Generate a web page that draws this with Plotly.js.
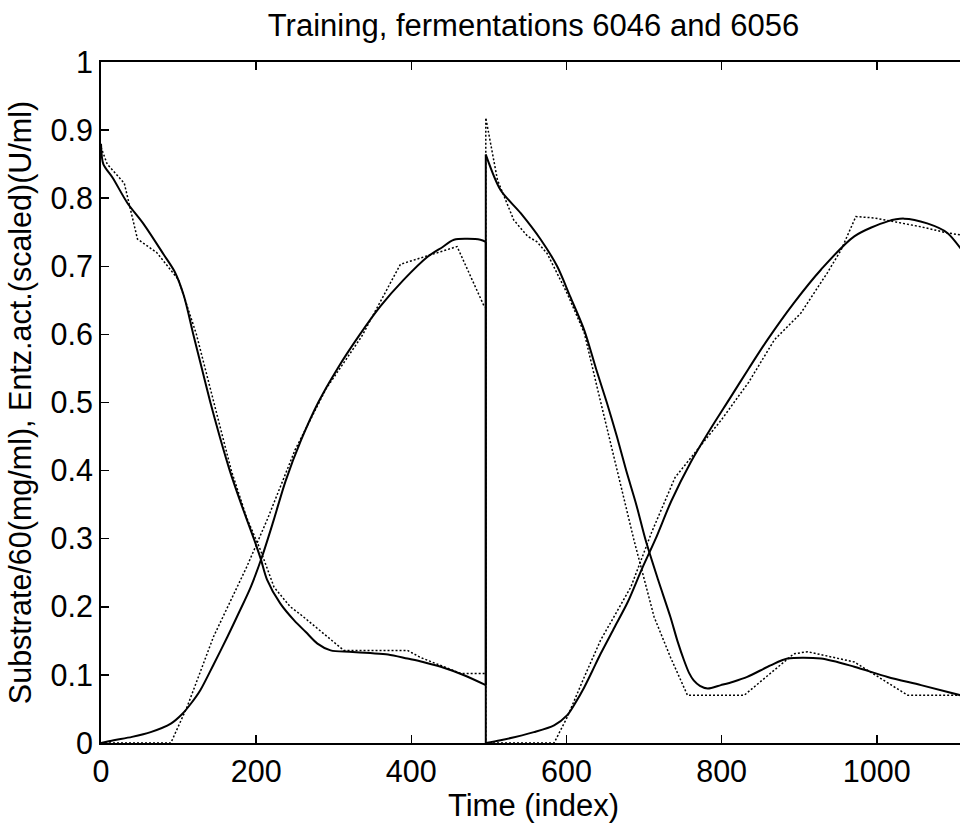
<!DOCTYPE html>
<html>
<head>
<meta charset="utf-8">
<script src="https://cdn.plot.ly/plotly-3.0.1.min.js"></script>
<style>
  html, body { margin: 0; padding: 0; overflow: hidden; background: #fff; }
  #chart { width: 966px; height: 825px; }
</style>
</head>
<body>
<div id="chart"></div>
<script>
// Fermentations 6046 (index 0..496) and 6056 (index 496..end), concatenated.

// Model output, substrate / 60 (mg/ml)
const substrateModelT = [0, 3, 15, 34, 55, 81, 95, 107, 119, 130, 141, 153, 166, 181, 197, 206, 214, 231, 249, 264, 279, 296, 320, 347, 370, 395, 415, 438, 468, 496,
  496, 515, 541, 567, 588, 605, 623, 638, 652, 665, 677, 690, 702, 718, 734, 743, 751.5, 758, 764, 772, 782, 799, 815, 833, 863, 885, 928, 971, 1014, 1057, 1115];
const substrateModel = [0.88, 0.85, 0.83, 0.793, 0.762, 0.717, 0.692, 0.656, 0.6, 0.55, 0.5, 0.45, 0.4, 0.35, 0.3, 0.27, 0.24, 0.205, 0.18, 0.163, 0.146, 0.136, 0.134, 0.132, 0.13, 0.124, 0.119, 0.112, 0.0995, 0.085,
  0.864, 0.812, 0.778, 0.739, 0.70, 0.655, 0.606, 0.55, 0.5, 0.45, 0.4, 0.35, 0.298, 0.24, 0.185, 0.15, 0.1215, 0.103, 0.092, 0.084, 0.08, 0.085, 0.09, 0.097, 0.114, 0.124, 0.124, 0.112, 0.097, 0.085, 0.068];

// Measured substrate / 60 (mg/ml), linearly interpolated between samples
const substrateMeasT = [0, 8, 30, 47, 72, 100, 123, 145, 168, 188, 205, 223, 244, 258, 279, 313, 395, 412, 464, 496,
  496, 511, 532, 550, 562, 575, 601, 623, 640, 655, 670, 687, 713, 734, 756, 829, 893, 911, 971, 1040, 1115];
const substrateMeas = [0.875, 0.85, 0.822, 0.74, 0.72, 0.68, 0.6, 0.5, 0.4, 0.33, 0.285, 0.229, 0.2, 0.188, 0.168, 0.136, 0.136, 0.1255, 0.102, 0.102,
  0.918, 0.827, 0.768, 0.744, 0.736, 0.719, 0.66, 0.602, 0.52, 0.45, 0.38, 0.298, 0.185, 0.126, 0.07, 0.07, 0.131, 0.134, 0.119, 0.07, 0.07];

// Model output, enzyme activity (scaled) (U/ml)
const enzymeModelT = [0, 16.5, 40, 64, 90, 105, 116, 128, 145, 163, 178, 193, 208, 222, 238, 258, 280, 305, 332, 360, 390, 421, 440, 455, 489, 496,
  496, 515, 558, 584, 601, 612, 623, 633, 644, 662, 679, 697, 715, 735, 760, 785, 810, 835, 859, 893, 928, 971, 1014, 1035, 1065, 1091, 1115];
const enzymeModel = [0, 0.004, 0.009, 0.016, 0.0285, 0.043, 0.058, 0.0775, 0.115, 0.156, 0.192, 0.229, 0.275, 0.325, 0.385, 0.445, 0.5, 0.55, 0.597, 0.641, 0.68, 0.714, 0.728, 0.739, 0.739, 0.736,
  0, 0.004, 0.016, 0.026, 0.041, 0.06, 0.082, 0.105, 0.131, 0.17, 0.207, 0.255, 0.3, 0.355, 0.412, 0.46, 0.505, 0.55, 0.592, 0.646, 0.695, 0.744, 0.766, 0.77, 0.763, 0.749, 0.715];

// Measured enzyme activity (scaled) (U/ml), linearly interpolated between samples
const enzymeMeasT = [0, 90, 111, 145, 188, 215, 250, 290, 336, 386, 459, 494, 496,
  496, 584, 601, 623, 644, 683, 710, 740, 765, 800, 835, 868, 902, 936, 954, 973, 997, 1057, 1091, 1115];
const enzymeMeas = [0, 0, 0.053, 0.156, 0.259, 0.33, 0.43, 0.52, 0.597, 0.703, 0.729, 0.641, 0.64,
  0, 0, 0.038, 0.097, 0.151, 0.229, 0.31, 0.39, 0.425, 0.475, 0.53, 0.592, 0.631, 0.69, 0.724, 0.773, 0.771, 0.758, 0.749, 0.745];

const xTicks = [0, 200, 400, 600, 800, 1000];
const yTicks = [0, 0.1, 0.2, 0.3, 0.4, 0.5, 0.6, 0.7, 0.8, 0.9, 1];

const FONT = 'Liberation Sans, Arial, sans-serif';
const solid = { color: '#000', width: 2, dash: 'solid' };
const dotted = { color: '#000', width: 1.5, dash: '2px,2px' };

// A model curve is smooth within each fermentation; the jump between the two
// runs (where the time index repeats) is drawn as a straight segment.
function modelTraces(t, v, name) {
  const k = t.findIndex((x, i) => i > 0 && x === t[i - 1]);
  return [
    { x: t.slice(0, k), y: v.slice(0, k), mode: 'lines', name: name,
      line: Object.assign({ shape: 'spline', smoothing: 0.8 }, solid) },
    { x: t.slice(k - 1, k + 1), y: v.slice(k - 1, k + 1), mode: 'lines', name: name,
      line: Object.assign({ shape: 'linear' }, solid) },
    { x: t.slice(k), y: v.slice(k), mode: 'lines', name: name,
      line: Object.assign({ shape: 'spline', smoothing: 0.8 }, solid) }
  ];
}

const traces = [].concat(
  modelTraces(substrateModelT, substrateModel, 'substrate (model)'),
  [{ x: substrateMeasT, y: substrateMeas, mode: 'lines', line: dotted, name: 'substrate (measured)' }],
  modelTraces(enzymeModelT, enzymeModel, 'enzyme (model)'),
  [{ x: enzymeMeasT, y: enzymeMeas, mode: 'lines', line: dotted, name: 'enzyme (measured)' }]
);

const axisCommon = {
  showgrid: false, zeroline: false,
  showline: true, linecolor: '#000', linewidth: 2,
  ticks: 'inside', ticklen: 8, tickwidth: 1.5, tickcolor: '#000',
  tickfont: { family: FONT, size: 30.5, color: '#000' }
};

const layout = {
  width: 966, height: 825,
  margin: { l: 101, r: 0, t: 62, b: 82 },
  paper_bgcolor: '#fff', plot_bgcolor: '#fff',
  showlegend: false,
  font: { family: FONT, size: 30, color: '#000' },
  title: {
    text: 'Training, fermentations 6046 and 6056',
    font: { family: FONT, size: 31, color: '#000' },
    x: 0.5, xref: 'paper', xanchor: 'center',
    y: 0.969, yref: 'container', yanchor: 'middle'
  },
  xaxis: Object.assign({}, axisCommon, {
    range: [0, 1115], tickvals: xTicks, ticktext: xTicks.map(String),
    mirror: 'ticks',
    title: { text: 'Time (index)', font: { family: FONT, size: 31, color: '#000' }, standoff: 6 }
  }),
  yaxis: Object.assign({}, axisCommon, {
    range: [0, 1], tickvals: yTicks, ticktext: yTicks.map(String),
    mirror: false,
    title: { text: 'Substrate/60(mg/ml), Entz.act.(scaled)(U/ml)', font: { family: FONT, size: 30.5, color: '#000' }, standoff: 10 }
  })
};

Plotly.newPlot('chart', traces, layout, { staticPlot: true, displayModeBar: false });
</script>
</body>
</html>
